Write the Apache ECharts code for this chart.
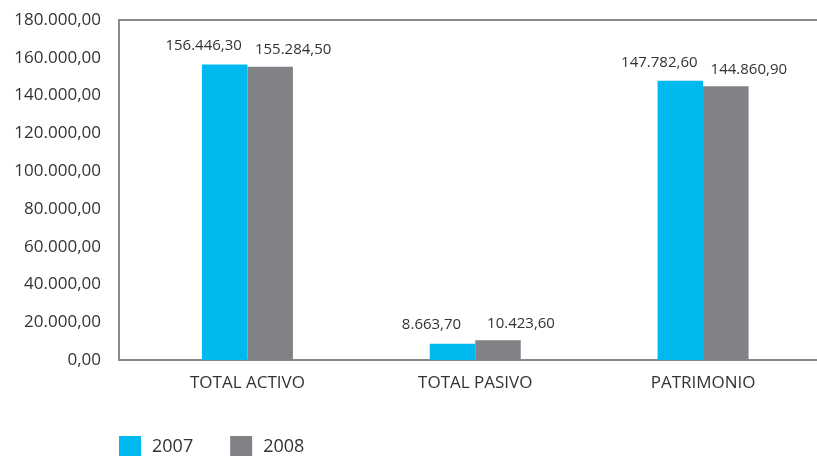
<!DOCTYPE html>
<html>
<head>
<meta charset="utf-8">
<script src="https://cdn.jsdelivr.net/npm/echarts@6/dist/echarts.min.js"></script>
<style>
  html, body { margin: 0; padding: 0; background: #ffffff; }
  #chart { width: 817px; height: 456px; }
</style>
</head>
<body>
<div id="chart"></div>
<script>
// Balance figures per year
const categories = ['TOTAL ACTIVO', 'TOTAL PASIVO', 'PATRIMONIO'];
const seriesNames = ['2007', '2008'];
const values2007 = [156446.30, 8663.70, 147782.60];
const values2008 = [155284.50, 10423.60, 144860.90];

// Value axis range
const yMin = 0;
const yMax = 180000;
const yStep = 20000;

const FONT = 'Open Sans';
const TEXT = '#333333';
const AXIS = '#8a8a8a';
const BLUE = '#00b9ef';
const GREY = '#808285';

// 1234567.8 -> "1.234.567,80"
function fmt(v) {
  const parts = Number(v).toFixed(2).split('.');
  const intPart = parts[0].replace(/\B(?=(\d{3})+(?!\d))/g, '.');
  return intPart + ',' + parts[1];
}

const chart = echarts.init(document.getElementById('chart'), null, { renderer: 'canvas' });

chart.setOption({
  animation: false,
  backgroundColor: '#ffffff',
  textStyle: { fontFamily: FONT },
  legend: {
    data: seriesNames,
    left: 119,
    top: 436,
    padding: 0,
    icon: 'rect',
    itemWidth: 22,
    itemHeight: 22,
    itemGap: 37,
    textStyle: { fontFamily: FONT, fontSize: 18, color: TEXT, padding: [0, 0, 0, 6] }
  },
  grid: [
    // bars and category labels
    { left: 133.5, right: -3.5, top: 20, bottom: 96 },
    // frame and value labels
    { left: 119, right: 0, top: 20, bottom: 96 }
  ],
  xAxis: [
    {
      type: 'category',
      gridIndex: 0,
      data: categories,
      axisLine: { show: false },
      axisTick: { show: false },
      axisLabel: { fontFamily: FONT, fontSize: 17, color: TEXT, margin: 15 }
    },
    {
      type: 'value',
      gridIndex: 1,
      position: 'bottom',
      min: 0, max: 1,
      axisLine: { show: true, onZero: false, lineStyle: { color: AXIS, width: 2 } },
      axisTick: { show: false },
      axisLabel: { show: false },
      splitLine: { show: false }
    },
    {
      type: 'value',
      gridIndex: 1,
      position: 'top',
      min: 0, max: 1,
      axisLine: { show: true, onZero: false, lineStyle: { color: AXIS, width: 2 } },
      axisTick: { show: false },
      axisLabel: { show: false },
      splitLine: { show: false }
    }
  ],
  yAxis: [
    {
      type: 'value',
      gridIndex: 0,
      min: yMin, max: yMax, interval: yStep,
      axisLine: { show: false },
      axisTick: { show: false },
      axisLabel: { show: false },
      splitLine: { show: false }
    },
    {
      type: 'value',
      gridIndex: 1,
      min: yMin, max: yMax, interval: yStep,
      axisLine: { show: true, lineStyle: { color: AXIS, width: 2 } },
      axisTick: { show: false },
      axisLabel: {
        fontFamily: FONT, fontSize: 17, color: TEXT, margin: 18,
        formatter: fmt
      },
      splitLine: { show: false }
    }
  ],
  series: [
    {
      name: seriesNames[0],
      type: 'bar',
      xAxisIndex: 0,
      yAxisIndex: 0,
      data: values2007,
      barWidth: 45.5,
      barGap: '0%',
      itemStyle: { color: BLUE },
      label: {
        show: true,
        position: 'top',
        distance: 9,
        offset: [-21, -2],
        fontFamily: FONT, fontSize: 15, color: TEXT,
        formatter: p => fmt(p.value)
      }
    },
    {
      name: seriesNames[1],
      type: 'bar',
      xAxisIndex: 0,
      yAxisIndex: 0,
      data: values2008,
      barWidth: 45.5,
      barGap: '0%',
      itemStyle: { color: GREY },
      label: {
        show: true,
        position: 'top',
        distance: 9,
        offset: [23, 0],
        fontFamily: FONT, fontSize: 15, color: TEXT,
        formatter: p => fmt(p.value)
      }
    }
  ]
});
</script>
</body>
</html>
